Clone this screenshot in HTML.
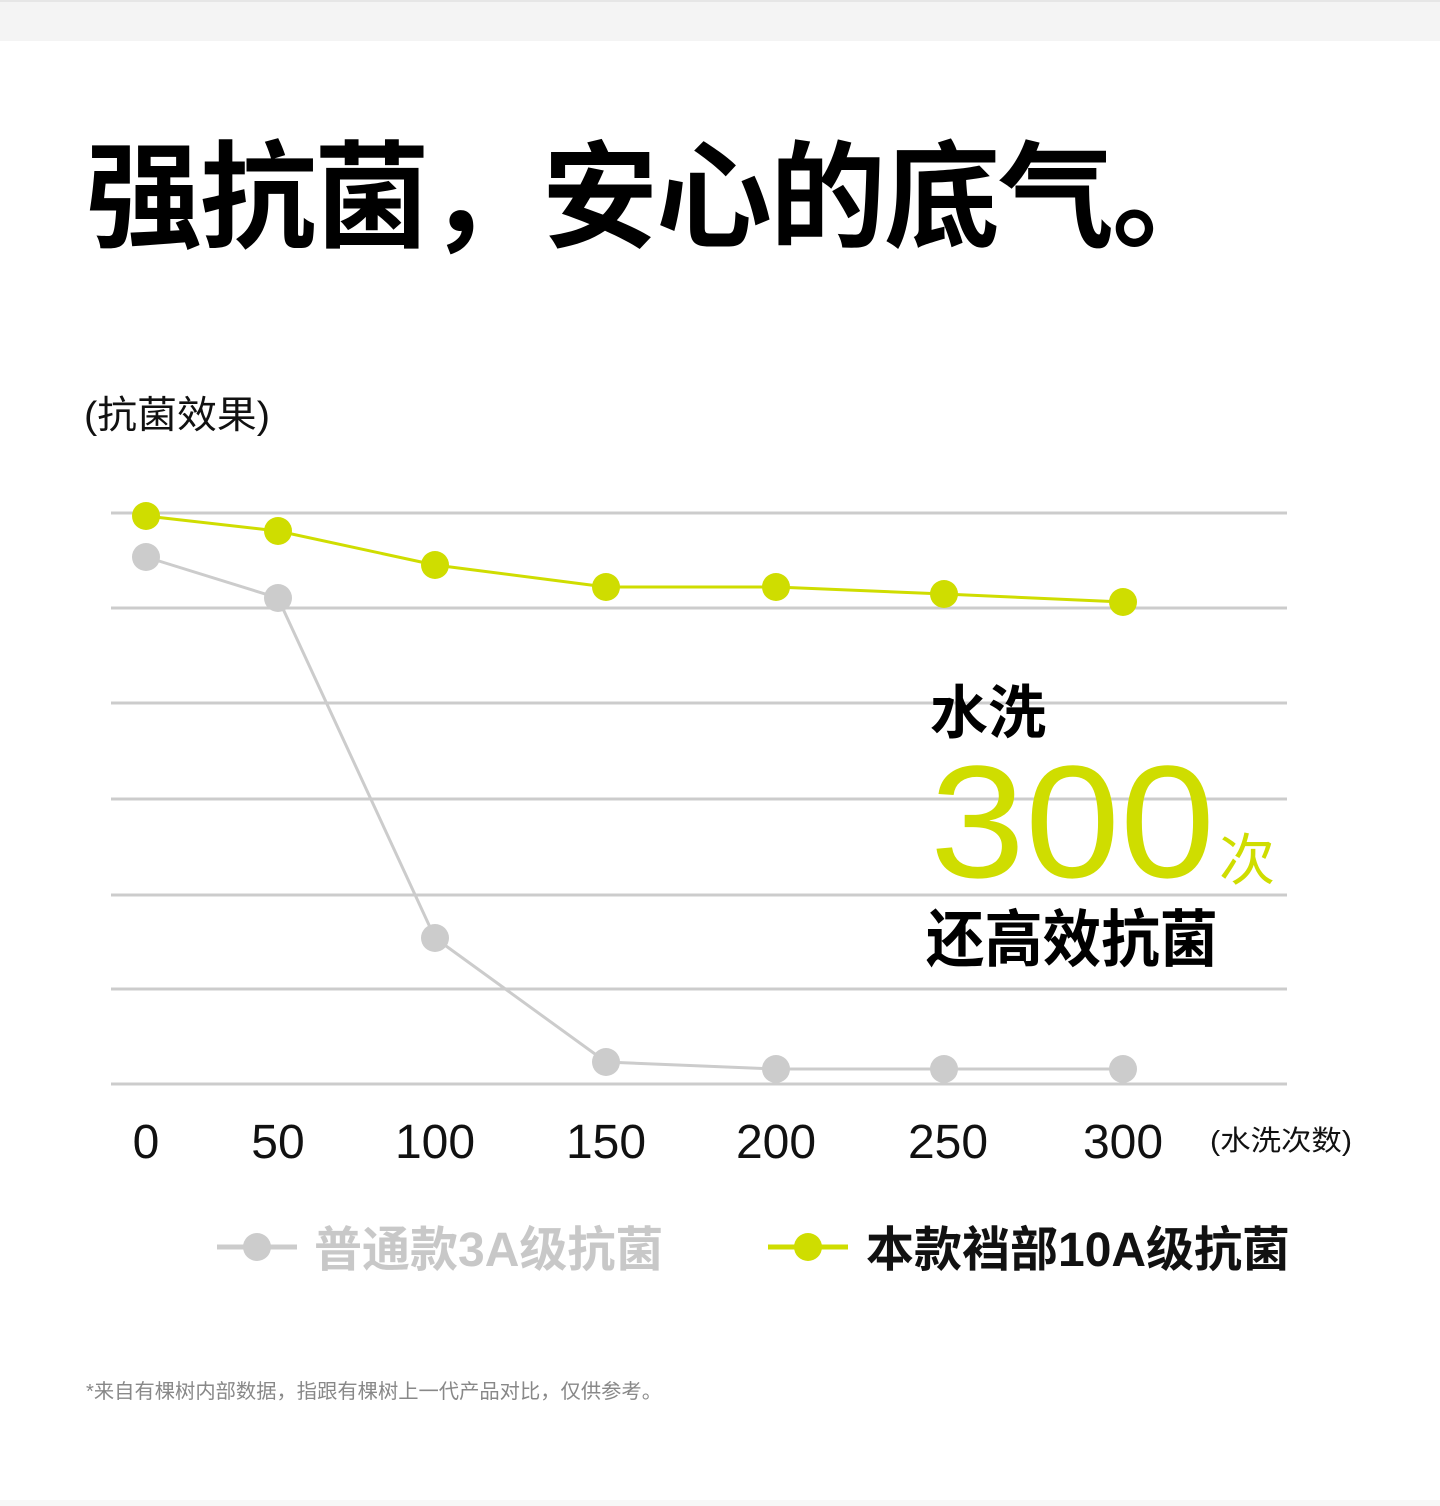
<!DOCTYPE html>
<html><head><meta charset="utf-8"><style>
body{margin:0;width:1440px;height:1506px;background:#fff;overflow:hidden}
svg{display:block}
</style></head><body>
<svg width="1440" height="1506" xmlns="http://www.w3.org/2000/svg" font-family="'Liberation Sans','Noto Sans CJK SC',sans-serif">
<rect x="0" y="0" width="1440" height="41" fill="#f4f4f4"/>
<rect x="0" y="0" width="1440" height="2" fill="#e6e6e6"/>
<text x="86" y="238" font-size="116" font-weight="bold" fill="#000" letter-spacing="-2">强抗菌，安心的底气。</text>
<text x="84" y="428" font-size="38" fill="#111" textLength="186" lengthAdjust="spacingAndGlyphs">(抗菌效果)</text>
<g stroke="#cccccc" stroke-width="3">
<line x1="111" x2="1287" y1="513" y2="513"/><line x1="111" x2="1287" y1="608" y2="608"/>
<line x1="111" x2="1287" y1="703" y2="703"/><line x1="111" x2="1287" y1="799" y2="799"/>
<line x1="111" x2="1287" y1="895" y2="895"/><line x1="111" x2="1287" y1="989" y2="989"/>
<line x1="111" x2="1287" y1="1084" y2="1084"/>
</g>
<polyline fill="none" stroke="#cccccc" stroke-width="3" points="146,557 278,598 435,938 606,1062 776,1069 944,1069 1123,1069"/>
<g fill="#cccccc"><circle cx="146" cy="557" r="14"/><circle cx="278" cy="598" r="14"/><circle cx="435" cy="938" r="14"/><circle cx="606" cy="1062" r="14"/><circle cx="776" cy="1069" r="14"/><circle cx="944" cy="1069" r="14"/><circle cx="1123" cy="1069" r="14"/></g>
<polyline fill="none" stroke="#cfdd00" stroke-width="3" points="146,516 278,531 435,565 606,587 776,587 944,594 1123,602"/>
<g fill="#cfdd00"><circle cx="146" cy="516" r="14"/><circle cx="278" cy="531" r="14"/><circle cx="435" cy="565" r="14"/><circle cx="606" cy="587" r="14"/><circle cx="776" cy="587" r="14"/><circle cx="944" cy="594" r="14"/><circle cx="1123" cy="602" r="14"/></g>
<text x="930" y="733" font-size="58" font-weight="bold" fill="#000">水洗</text>
<text x="930" y="877" font-size="160" fill="#cfdd00" textLength="285" lengthAdjust="spacingAndGlyphs">300</text>
<text x="1219" y="880" font-size="56" fill="#cfdd00">次</text>
<text x="926" y="961" font-size="62" font-weight="bold" fill="#000" textLength="292" lengthAdjust="spacingAndGlyphs">还高效抗菌</text>
<g font-size="48" fill="#111" text-anchor="middle">
<text x="146" y="1158">0</text><text x="278" y="1158">50</text><text x="435" y="1158">100</text><text x="606" y="1158">150</text><text x="776" y="1158">200</text><text x="948" y="1158">250</text><text x="1123" y="1158">300</text>
</g>
<text x="1210" y="1150" font-size="28" fill="#111" textLength="142" lengthAdjust="spacingAndGlyphs">(水洗次数)</text>
<line x1="217" x2="297" y1="1247" y2="1247" stroke="#cccccc" stroke-width="5"/>
<circle cx="257" cy="1247" r="14" fill="#cccccc"/>
<text x="314" y="1266" font-size="48" font-weight="bold" fill="#c8c8c8">普通款3A级抗菌</text>
<line x1="768" x2="848" y1="1247" y2="1247" stroke="#cfdd00" stroke-width="5"/>
<circle cx="808" cy="1247" r="14" fill="#cfdd00"/>
<text x="866" y="1266" font-size="48" font-weight="bold" fill="#111">本款裆部10A级抗菌</text>
<text x="86" y="1398" font-size="20" fill="#888" textLength="576" lengthAdjust="spacingAndGlyphs">*来自有棵树内部数据，指跟有棵树上一代产品对比，仅供参考。</text>
<rect x="0" y="1500" width="1440" height="6" fill="#f7f7f7"/>
</svg>
</body></html>
